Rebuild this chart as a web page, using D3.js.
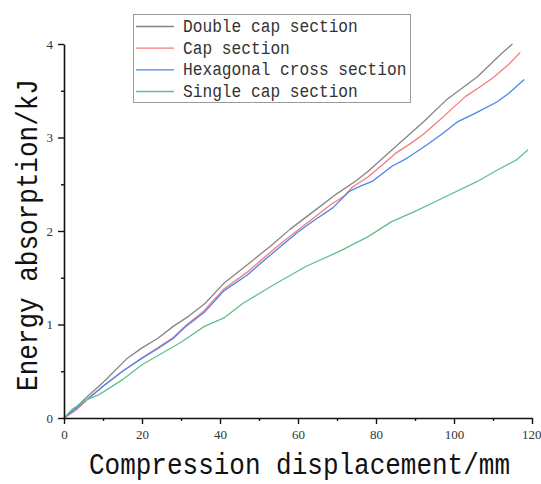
<!DOCTYPE html>
<html>
<head>
<meta charset="utf-8">
<script src="https://cdn.jsdelivr.net/npm/d3@7/dist/d3.min.js"></script>
<style>
  body { margin: 0; background: #fff; }
  text { font-family: "Liberation Mono", "DejaVu Sans Mono", monospace; }
</style>
</head>
<body>
<svg id="chart" width="541" height="484"></svg>
<script>
// Energy absorbed vs. compression displacement for four tube sections
const seriesNames = ["Double cap section", "Cap section", "Hexagonal cross section", "Single cap section"];
const seriesColors = ["#858585", "#f77b7b", "#4a86ec", "#62c08c"];

const doubleCapX = [0, 3, 6, 10, 16, 20, 24, 28, 32, 36, 41, 47, 53, 58, 64, 70, 75, 78, 85, 92, 98, 106, 112, 115];
const doubleCapY = [0, 0.11, 0.23, 0.38, 0.63, 0.75, 0.85, 0.98, 1.09, 1.22, 1.44, 1.64, 1.84, 2.02, 2.21, 2.40, 2.54, 2.64, 2.90, 3.16, 3.40, 3.65, 3.89, 4.00];

const capX = [0, 3, 6, 10, 15, 20, 24, 28, 31, 36, 41, 47, 52, 56, 60, 64, 68, 72, 74, 78, 80, 85, 89, 92, 95, 97, 99, 103, 107, 110, 114, 117];
const capY = [0, 0.08, 0.2, 0.34, 0.5, 0.64, 0.75, 0.86, 0.98, 1.15, 1.38, 1.56, 1.74, 1.88, 2.01, 2.14, 2.27, 2.38, 2.47, 2.58, 2.65, 2.83, 2.94, 3.03, 3.14, 3.21, 3.29, 3.44, 3.55, 3.64, 3.78, 3.91];

const hexX = [0, 3, 6, 10, 15, 20, 24, 28, 31, 36, 41, 47, 52, 56, 60, 64, 69, 73, 76, 79, 84, 88, 93, 97, 101, 105, 111, 114, 118];
const hexY = [0, 0.1, 0.2, 0.34, 0.5, 0.64, 0.74, 0.85, 0.97, 1.13, 1.36, 1.53, 1.71, 1.85, 1.99, 2.11, 2.25, 2.42, 2.48, 2.53, 2.69, 2.78, 2.92, 3.04, 3.17, 3.25, 3.38, 3.47, 3.62];

const singleCapX = [0, 2, 6, 9, 15, 20, 25, 30, 36, 41, 46, 54, 62, 71, 78, 84, 90, 97, 106, 111, 116, 119];
const singleCapY = [0, 0.09, 0.2, 0.25, 0.41, 0.57, 0.69, 0.81, 0.98, 1.07, 1.23, 1.43, 1.62, 1.79, 1.94, 2.10, 2.21, 2.35, 2.53, 2.65, 2.76, 2.87];

const xMajorTicks = [0, 20, 40, 60, 80, 100, 120];
const xMinorTicks = [10, 30, 50, 70, 90, 110];
const yMajorTicks = [0, 1, 2, 3, 4];
const yMinorTicks = [0.5, 1.5, 2.5, 3.5];

const xTitle = "Compression displacement/mm";
const yTitle = "Energy absorption/kJ";

const svg = d3.select("#chart");

const x = d3.scaleLinear().domain([0, 120]).range([64, 532]);
const y = d3.scaleLinear().domain([0, 4]).range([418, 44]);

const seriesData = [
  d3.zip(doubleCapX, doubleCapY),
  d3.zip(capX, capY),
  d3.zip(hexX, hexY),
  d3.zip(singleCapX, singleCapY)
];

// curves
const line = d3.line().x(d => x(d[0])).y(d => y(d[1]));
svg.append("g")
  .selectAll("path")
  .data(seriesData)
  .join("path")
  .attr("d", line)
  .attr("fill", "none")
  .attr("stroke", (d, i) => seriesColors[i])
  .attr("stroke-width", 1.3)
  .attr("stroke-linejoin", "round");

// axes
function styleAxis(g) {
  g.select(".domain").attr("stroke", "#111").attr("stroke-width", 1.6);
  g.selectAll(".tick line").attr("stroke", "#111").attr("stroke-width", 1.4);
  g.selectAll(".tick text").attr("fill", "#333").style("font-size", "13px")
    .style("font-family", "'Liberation Serif', serif");
}

const fmt = d3.format("d");

const xAxis = svg.append("g").attr("transform", "translate(0,418)")
  .call(d3.axisBottom(x).tickValues(xMajorTicks).tickFormat(fmt).tickSize(6).tickPadding(6).tickSizeOuter(0));
styleAxis(xAxis);
// keep the last label inside the right edge
xAxis.selectAll(".tick text").filter(d => d === 120).attr("text-anchor", "end").attr("dx", "9");
const xMinor = svg.append("g").attr("transform", "translate(0,418)")
  .call(d3.axisBottom(x).tickValues(xMinorTicks).tickSize(3).tickFormat(""));
styleAxis(xMinor);
xMinor.select(".domain").remove();

const yAxis = svg.append("g").attr("transform", "translate(64,0)")
  .call(d3.axisLeft(y).tickValues(yMajorTicks).tickFormat(fmt).tickSize(6).tickPadding(5).tickSizeOuter(0));
styleAxis(yAxis);
const yMinor = svg.append("g").attr("transform", "translate(64,0)")
  .call(d3.axisLeft(y).tickValues(yMinorTicks).tickSize(3).tickFormat(""));
styleAxis(yMinor);
yMinor.select(".domain").remove();

// axis titles (monospace, stretched vertically for tall narrow glyphs)
svg.append("text")
  .attr("transform", "translate(299.5,474) scale(1,1.15)")
  .attr("text-anchor", "middle")
  .attr("fill", "#111")
  .style("font-size", "26px")
  .text(xTitle);

svg.append("text")
  .attr("transform", "translate(37,235) rotate(-90) scale(1,1.15)")
  .attr("text-anchor", "middle")
  .attr("fill", "#111")
  .style("font-size", "26px")
  .text(yTitle);

// legend
const legend = svg.append("g");
legend.append("rect")
  .attr("x", 133.5).attr("y", 14.5).attr("width", 277).attr("height", 88)
  .attr("fill", "#fff").attr("stroke", "#9a9a9a").attr("stroke-width", 1);

const rowY = d3.scalePoint().domain(seriesNames).range([26.5, 91.5]);
const rows = legend.selectAll("g.row").data(seriesNames).join("g").attr("class", "row")
  .attr("transform", d => `translate(0,${rowY(d)})`);
rows.append("line")
  .attr("x1", 136).attr("x2", 174).attr("y1", 0).attr("y2", 0)
  .attr("stroke", (d, i) => seriesColors[i]).attr("stroke-width", 1.3);
rows.append("text")
  .attr("transform", "translate(183,5.5) scale(1,1.15)")
  .attr("fill", "#333")
  .style("font-size", "16.2px")
  .text(d => d);
</script>
</body>
</html>
